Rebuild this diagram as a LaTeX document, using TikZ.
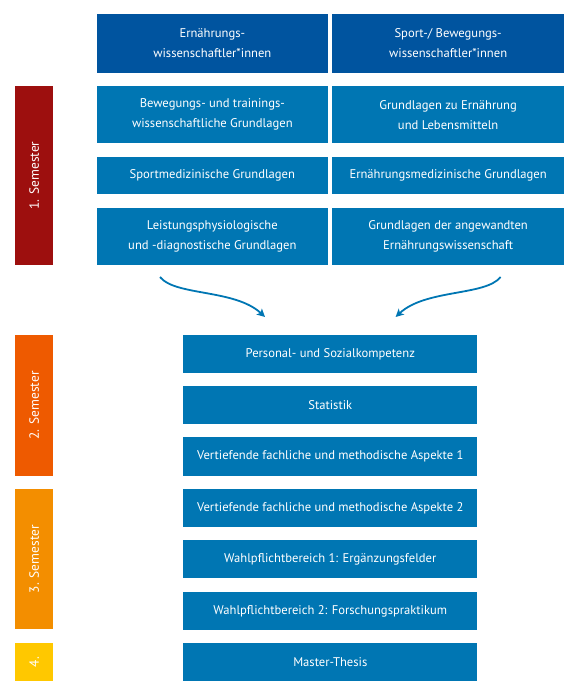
\documentclass[tikz,border=0pt]{standalone}
\usepackage{fontspec}
\setmainfont{PT Sans}
\usetikzlibrary{arrows.meta}
\definecolor{hdrblue}{RGB}{0,84,159}
\definecolor{boxblue}{RGB}{0,118,179}
\definecolor{semA}{RGB}{157,15,14}
\definecolor{semB}{RGB}{238,90,0}
\definecolor{semC}{RGB}{243,142,0}
\definecolor{semD}{RGB}{255,200,0}
\tikzset{
  base/.style={inner sep=0pt, outer sep=0pt, text=white, align=center, font=\fontsize{12.6}{20}\selectfont},
  hdr/.style={base, fill=hdrblue},
  modbox/.style={base, fill=boxblue},
  colL/.style={minimum width=231.3pt},
  colR/.style={minimum width=231.7pt},
  wide/.style={minimum width=294pt, minimum height=38.3pt},
  sembar/.style={base, minimum width=38.3pt},
  semtext/.style={base, rotate=90, font=\fontsize{13.4}{16}\selectfont},
  flow/.style={boxblue, line width=1.8pt, -{Stealth[length=8pt,width=8pt,inset=2pt]}}
}
\begin{document}
\begin{tikzpicture}[x=1pt,y=-1pt]
\useasboundingbox (0,0) rectangle (576,697);
% header row
\node[hdr, colL, minimum height=58.4pt] (h1) at (212.35,43.5) {Ernährungs-\\wissenschaftler*innen};
\node[hdr, colR, minimum height=58.4pt] (h2) at (448.15,43.5) {Sport-/ Bewegungs-\\wissenschaftler*innen};
% first semester modules
\node[modbox, colL, minimum height=57.3pt] (a1) at (212.35,114.65) {Bewegungs- und trainings-\\wissenschaftliche Grundlagen};
\node[modbox, colR, minimum height=57.3pt] (b1) at (448.15,114.65) {Grundlagen zu Ernährung\\und Lebensmitteln};
\node[modbox, colL, minimum height=37.6pt] (a2) at (212.35,175.5) {Sportmedizinische Grundlagen};
\node[modbox, colR, minimum height=37.6pt] (b2) at (448.15,175.5) {Ernährungsmedizinische Grundlagen};
\node[modbox, colL, minimum height=57.3pt] (a3) at (212.35,236.35) {Leistungsphysiologische\\und -diagnostische Grundlagen};
\node[modbox, colR, minimum height=57.3pt] (b3) at (448.15,236.35) {Grundlagen der angewandten\\Ernährungswissenschaft};
% central modules
\node[modbox, wide] (c1) at (330.3,354.15) {Personal- und Sozialkompetenz};
\node[modbox, wide] (c2) at (330.3,405.15) {Statistik};
\node[modbox, wide] (c3) at (330.3,456.5) {Vertiefende fachliche und methodische Aspekte 1};
\node[modbox, wide] (c4) at (330.3,508) {Vertiefende fachliche und methodische Aspekte 2};
\node[modbox, wide] (c5) at (330.3,559.15) {Wahlpflichtbereich 1: Ergänzungsfelder};
\node[modbox, wide] (c6) at (330.3,610.85) {Wahlpflichtbereich 2: Forschungspraktikum};
\node[modbox, wide] (c7) at (330.3,662) {Master-Thesis};
% semester bars
\node[sembar, fill=semA, minimum height=179pt] (s1) at (34.15,175.5) {};
\node[sembar, fill=semB, minimum height=140.7pt] (s2) at (34.15,405.35) {};
\node[sembar, fill=semC, minimum height=140.3pt] (s3) at (34.15,559.15) {};
\node[sembar, fill=semD, minimum height=38pt] (s4) at (34.15,662) {};
\node[semtext] (t1) at (s1.center) {1. Semester};
\node[semtext] (t2) at (s2.center) {2. Semester};
\node[semtext] (t3) at (s3.center) {3. Semester};
\node[semtext] (t4) at (s4.center) {4.};
% arrows
\coordinate (la) at (160,277);
\coordinate (lb) at (265,317);
\coordinate (ra) at (500.6,277);
\coordinate (rb) at (395.6,317);
\draw[flow] (la) .. controls (175,296) and (235,289) .. (lb);
\draw[flow] (ra) .. controls (485.6,296) and (425.6,289) .. (rb);
\end{tikzpicture}
\end{document}
